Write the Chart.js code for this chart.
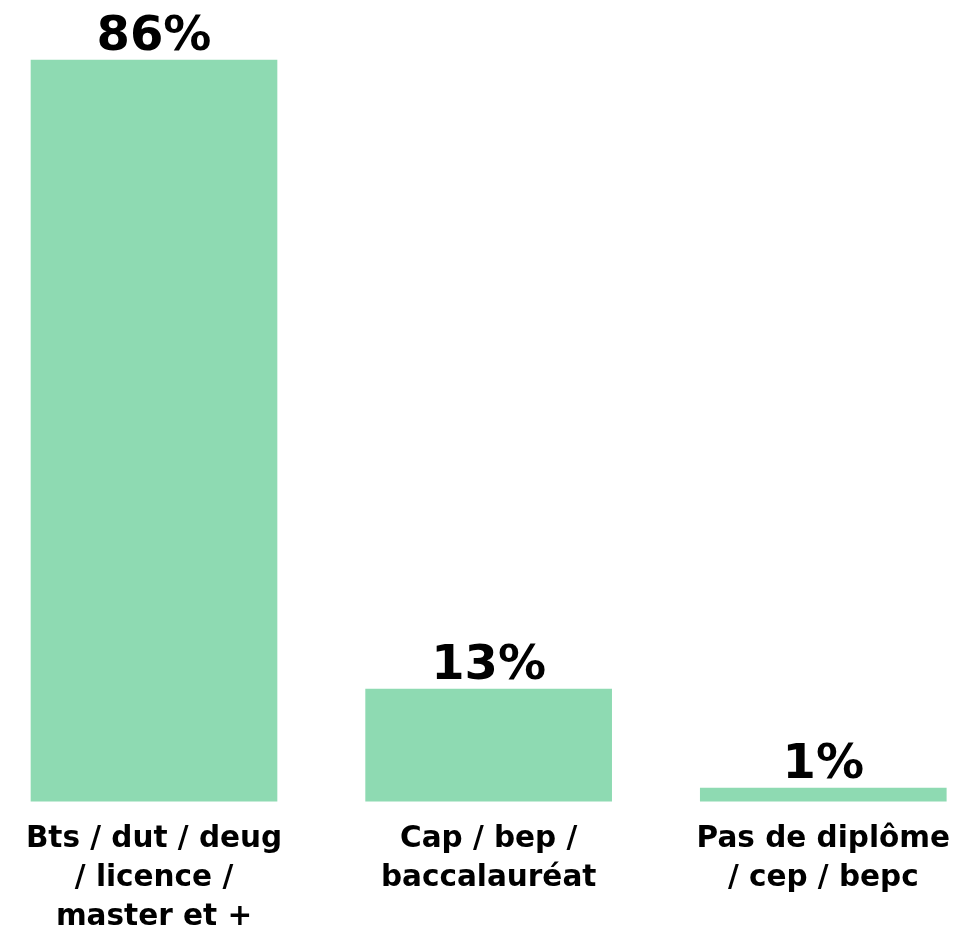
<!DOCTYPE html>
<html>
<head>
<meta charset="utf-8">
<script src="https://cdn.jsdelivr.net/npm/chart.js@4/dist/chart.umd.min.js"></script>
<style>
  html, body { margin: 0; padding: 0; background: #fff; }
  #wrap { width: 961px; height: 927px; position: relative; }
</style>
</head>
<body>
<div id="wrap"><canvas id="diplomeChart"></canvas></div>
<script>
// Niveau de diplôme (%)
const categories = [
    ['Bts / dut / deug', '/ licence /', 'master et +'],
    ['Cap / bep /', 'baccalauréat'],
    ['Pas de diplôme', '/ cep / bepc']
];
const percentages = [86, 13, 1];

const barColor = '#8edab2';
const fontFamily = '"DejaVu Sans", "Open Sans", sans-serif';

// Draw the percentage above each bar
const topLabelsPlugin = {
    id: 'topLabels',
    afterDatasetsDraw(chart) {
        const { ctx } = chart;
        ctx.save();
        ctx.textAlign = 'center';
        ctx.textBaseline = 'alphabetic';
        ctx.font = 'bold 48px ' + fontFamily;
        ctx.fillStyle = '#000';
        const meta = chart.getDatasetMeta(0);
        meta.data.forEach((bar, i) => {
            ctx.fillText(percentages[i] + '%', bar.x, bar.y - 10);
        });
        ctx.restore();
    }
};

new Chart(document.getElementById('diplomeChart'), {
    type: 'bar',
    data: {
        labels: categories,
        datasets: [{
            data: percentages,
            backgroundColor: barColor,
            borderWidth: 0,
            barThickness: 246,
            minBarLength: 13,
            clip: false
        }]
    },
    plugins: [topLabelsPlugin],
    options: {
        responsive: true,
        maintainAspectRatio: false,
        animation: false,
        layout: {
            padding: { top: 60, left: 154, right: 134, bottom: -21 }
        },
        scales: {
            y: {
                display: false,
                min: 0,
                max: 86
            },
            x: {
                offset: false,
                grid: { display: false },
                border: { display: false },
                ticks: {
                    color: '#000',
                    padding: 11,
                    maxRotation: 0,
                    autoSkip: false,
                    font: { family: fontFamily, size: 29.5, weight: 'bold', lineHeight: 1.32 }
                }
            }
        },
        plugins: {
            legend: { display: false },
            tooltip: { enabled: false }
        }
    }
});
</script>
</body>
</html>
